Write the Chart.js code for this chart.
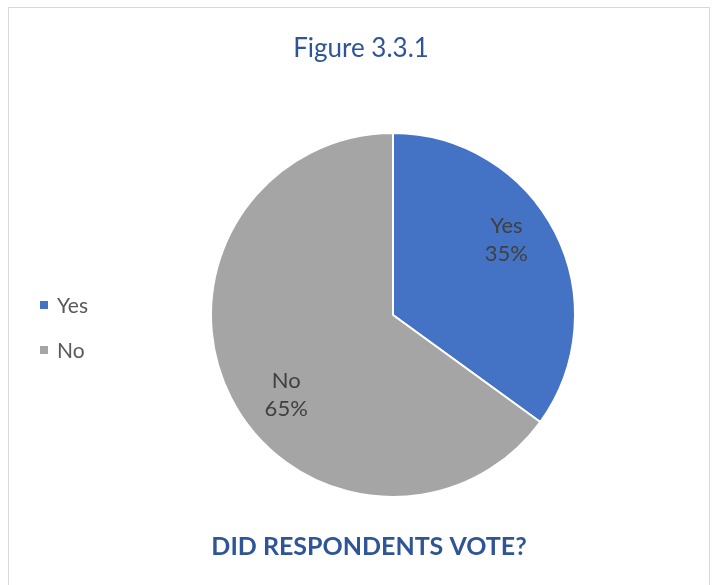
<!DOCTYPE html>
<html>
<head>
<meta charset="utf-8">
<script src="https://cdn.jsdelivr.net/npm/chart.js@4"></script>
<style>
    html, body { margin: 0; padding: 0; background: #ffffff; }
    #wrap { position: relative; width: 718px; height: 585px; overflow: hidden; }
    #frame {
        position: absolute; left: 8px; top: 7px; width: 702px; height: 600px;
        border: 1px solid #d9d9d9; box-sizing: border-box;
    }
    canvas { position: absolute; left: 0; top: 0; }
</style>
</head>
<body>
<div id="wrap">
    <div id="frame"></div>
    <canvas id="voteChart" width="718" height="585"></canvas>
</div>
<script>
// answers and their shares
const labels = ['Yes', 'No'];
const shares = [35, 65];
const colors = ['#4472C4', '#A5A5A5'];

const chartTitle = 'Figure 3.3.1';
const chartCaption = 'DID RESPONDENTS VOTE?';
const fontFamily = 'Lato, "Open Sans", sans-serif';

// titles, side legend and in-slice labels
const decorations = {
    id: 'decorations',
    afterDraw(chart) {
        const ctx = chart.ctx;
        ctx.save();

        ctx.textAlign = 'center';
        ctx.textBaseline = 'middle';
        ctx.fillStyle = '#2F5597';
        ctx.font = '26px ' + fontFamily;
        ctx.fillText(chartTitle, 361, 49);
        ctx.font = 'bold 25px ' + fontFamily;
        ctx.fillText(chartCaption, 369, 547);

        // legend
        const ds = chart.data.datasets[0];
        ctx.textAlign = 'left';
        ctx.font = '21px ' + fontFamily;
        chart.data.labels.forEach((lbl, i) => {
            const y = 305 + i * 45;
            ctx.fillStyle = ds.backgroundColor[i];
            ctx.fillRect(40, y - 4, 8, 8);
            ctx.fillStyle = '#595959';
            ctx.fillText(lbl, 57, y + 1);
        });

        // slice labels: name + percent
        const meta = chart.getDatasetMeta(0);
        ctx.textAlign = 'center';
        ctx.fillStyle = '#404040';
        ctx.font = '22px ' + fontFamily;
        meta.data.forEach((arc, i) => {
            const p = arc.getProps(['x', 'y', 'startAngle', 'endAngle', 'outerRadius'], true);
            const a = p.startAngle + (p.endAngle - p.startAngle) * 0.455;
            const r = p.outerRadius * 0.74;
            const x = p.x + Math.cos(a) * r;
            const y = p.y + Math.sin(a) * r;
            ctx.fillText(chart.data.labels[i], x, y - 16);
            ctx.fillText(ds.data[i] + '%', x, y + 12);
        });

        ctx.restore();
    }
};

new Chart(document.getElementById('voteChart'), {
    type: 'pie',
    data: {
        labels: labels,
        datasets: [{
            data: shares,
            backgroundColor: colors,
            borderColor: '#ffffff',
            borderWidth: 2
        }]
    },
    options: {
        responsive: false,
        animation: false,
        layout: {
            padding: { top: 132, bottom: 87, left: 210, right: 142 }
        },
        plugins: {
            legend: { display: false },
            tooltip: { enabled: false }
        }
    },
    plugins: [decorations]
});
</script>
</body>
</html>
